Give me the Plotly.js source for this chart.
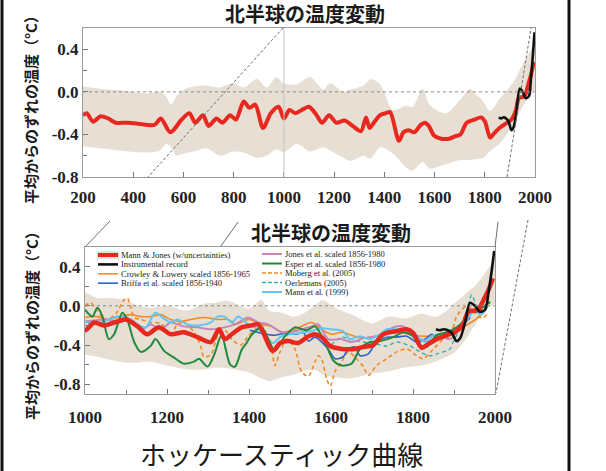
<!DOCTYPE html>
<html><head><meta charset="utf-8">
<script src="https://cdn.plot.ly/plotly-3.0.1.min.js"></script>
<style>html,body{margin:0;padding:0;background:#fff;}#chart{width:606px;height:471px;}</style>
</head><body><div id="chart"></div>
<script>
// ---------------- DATA ----------------
// Mann & Jones (2003) reconstruction, 200-2000
const mjYears = [200,215,240,270,300,330,380,420,485,510,548,593,624,647,678,700,732,755,786,809,840,863,886,917,948,979,1000,1022,1046,1079,1100,1128,1152,1180,1209,1241,1274,1307,1327,1341,1358,1382,1406,1423,1458,1476,1496,1520,1545,1561,1577,1598,1626,1658,1679,1703,1728,1760,1785,1801,1821,1837,1858,1882,1906,1923,1935,1947,1959,1972,1984,1995];
const mjVals  = [-0.22,-0.20,-0.28,-0.23,-0.25,-0.29,-0.29,-0.30,-0.31,-0.25,-0.38,-0.26,-0.20,-0.29,-0.22,-0.32,-0.25,-0.29,-0.22,-0.26,-0.09,-0.15,-0.12,-0.34,-0.20,-0.14,-0.25,-0.17,-0.20,-0.16,-0.14,-0.21,-0.29,-0.22,-0.29,-0.27,-0.32,-0.37,-0.24,-0.34,-0.29,-0.22,-0.20,-0.19,-0.46,-0.38,-0.36,-0.38,-0.31,-0.29,-0.32,-0.41,-0.44,-0.44,-0.42,-0.40,-0.29,-0.26,-0.24,-0.28,-0.43,-0.39,-0.34,-0.30,-0.26,-0.18,-0.06,-0.05,-0.04,0.06,0.16,0.28];
// uncertainty band, upper panel
const topBandYears = [200,266,346,452,506,532,552,572,600,640,692,745,798,838,892,931,971,998,1051,1104,1158,1184,1238,1264,1318,1344,1384,1434,1486,1513,1553,1580,1646,1700,1741,1767,1794,1820,1861,1914,1955,2000];
const topBandHi = [0.05,0.03,0.015,-0.015,0.0,-0.05,-0.12,-0.04,0.02,0.05,0.06,0.04,0.08,0.04,0.12,0.04,0.14,0.08,0.07,0.14,0.02,0.08,0.0,0.02,0.06,0.12,0.07,-0.17,-0.13,-0.14,0.03,-0.12,-0.2,-0.08,0.03,-0.03,-0.09,-0.18,-0.06,0.09,0.28,0.46];
const topBandLo = [-0.51,-0.53,-0.55,-0.57,-0.55,-0.49,-0.52,-0.60,-0.58,-0.56,-0.53,-0.60,-0.56,-0.57,-0.62,-0.60,-0.54,-0.57,-0.49,-0.56,-0.52,-0.55,-0.62,-0.65,-0.60,-0.63,-0.52,-0.58,-0.71,-0.74,-0.66,-0.72,-0.68,-0.64,-0.64,-0.63,-0.62,-0.56,-0.48,-0.31,-0.12,0.02];
// uncertainty band, lower panel
const botBandYears = [1000,1030,1060,1100,1130,1160,1200,1250,1290,1320,1350,1400,1430,1450,1480,1510,1540,1560,1580,1610,1650,1700,1740,1780,1820,1860,1900,1930,1955,1980,2000];
const botBandHi = [0.14,0.08,0.08,0.06,0.0,-0.02,0.0,-0.05,0.02,0.03,0.05,-0.03,0.06,-0.05,-0.07,-0.11,-0.06,0.0,0.06,-0.02,-0.09,-0.18,-0.11,-0.13,-0.08,-0.11,0.02,0.13,0.22,0.36,0.47];
const botBandLo = [-0.50,-0.52,-0.55,-0.58,-0.58,-0.57,-0.61,-0.65,-0.65,-0.63,-0.64,-0.68,-0.74,-0.77,-0.73,-0.70,-0.66,-0.65,-0.70,-0.73,-0.74,-0.69,-0.67,-0.63,-0.61,-0.56,-0.48,-0.33,-0.17,-0.03,0.02];
// instrumental record
const instYears = [1856,1865,1875,1885,1895,1906,1915,1927,1939,1951,1963,1976,1984,1992,1998];
const instVals  = [-0.24,-0.25,-0.24,-0.25,-0.28,-0.36,-0.33,-0.17,0.03,0.0,-0.06,-0.04,0.13,0.36,0.56];
// Crowley & Lowery
const crowleyYears = [1000,1030,1055,1087,1112,1136,1160,1185,1209,1233,1258,1290,1323,1350,1366,1398,1415,1431,1455,1480,1512,1553,1577,1601,1626,1650,1680,1710,1740,1770,1800,1830,1860,1890,1920,1945,1965];
const crowleyVals  = [-0.12,-0.11,-0.14,-0.11,-0.09,-0.11,-0.11,-0.09,-0.14,-0.16,-0.14,-0.12,-0.14,-0.14,-0.19,-0.14,-0.16,-0.19,-0.21,-0.27,-0.24,-0.17,-0.24,-0.29,-0.27,-0.30,-0.33,-0.31,-0.28,-0.27,-0.30,-0.31,-0.30,-0.27,-0.22,-0.16,-0.10];
// Briffa et al.
const briffaYears = [1402,1430,1460,1490,1515,1532,1545,1561,1593,1610,1630,1642,1658,1671,1691,1711,1736,1760,1785,1809,1833,1845,1866,1890,1906,1925,1940];
const briffaVals  = [-0.25,-0.28,-0.30,-0.28,-0.29,-0.27,-0.36,-0.32,-0.44,-0.54,-0.52,-0.44,-0.42,-0.51,-0.49,-0.37,-0.32,-0.32,-0.31,-0.37,-0.33,-0.29,-0.34,-0.27,-0.23,-0.18,-0.12];
// Jones et al.
const jonesYears = [1000,1055,1079,1112,1140,1160,1185,1209,1241,1274,1307,1340,1366,1398,1423,1447,1480,1512,1553,1569,1593,1626,1650,1680,1711,1752,1776,1809,1841,1866,1890,1923,1939,1955,1967,1980];
const jonesVals  = [-0.16,-0.14,-0.17,-0.14,-0.24,-0.19,-0.24,-0.17,-0.21,-0.22,-0.24,-0.22,-0.19,-0.12,-0.17,-0.19,-0.27,-0.26,-0.21,-0.19,-0.34,-0.34,-0.37,-0.33,-0.31,-0.22,-0.21,-0.32,-0.36,-0.31,-0.34,-0.17,-0.06,-0.04,-0.09,-0.01];
// Esper et al.
const esperYears = [1000,1018,1030,1042,1058,1071,1091,1103,1120,1136,1160,1172,1193,1221,1241,1266,1278,1299,1315,1333,1354,1366,1382,1394,1406,1431,1447,1463,1488,1512,1541,1561,1585,1606,1626,1650,1671,1695,1720,1752,1776,1797,1817,1833,1858,1882,1906,1923,1939,1955,1972,1988];
const esperVals  = [-0.04,-0.11,-0.02,-0.10,-0.34,-0.29,-0.07,-0.14,-0.37,-0.47,-0.41,-0.34,-0.46,-0.54,-0.59,-0.57,-0.54,-0.62,-0.50,-0.30,-0.60,-0.62,-0.45,-0.38,-0.30,-0.22,-0.34,-0.46,-0.31,-0.22,-0.25,-0.21,-0.37,-0.56,-0.61,-0.59,-0.44,-0.37,-0.36,-0.32,-0.27,-0.30,-0.40,-0.42,-0.30,-0.27,-0.22,-0.16,-0.06,-0.06,-0.01,0.04];
// Moberg et al. (2005)
const mobergYears = [1000,1014,1030,1050,1075,1095,1103,1112,1120,1136,1160,1185,1209,1225,1241,1266,1282,1290,1307,1323,1341,1360,1380,1400,1431,1455,1463,1476,1492,1512,1528,1545,1561,1569,1577,1589,1598,1610,1626,1642,1662,1679,1691,1711,1736,1760,1785,1809,1825,1850,1874,1890,1906,1919,1931,1947,1959,1972,1985];
const mobergVals  = [0.0,0.03,-0.05,-0.15,-0.08,0.06,0.08,-0.02,-0.12,-0.14,-0.17,-0.18,-0.30,-0.19,-0.17,-0.27,-0.41,-0.52,-0.50,-0.31,-0.25,-0.35,-0.40,-0.30,-0.21,-0.44,-0.61,-0.47,-0.34,-0.44,-0.67,-0.72,-0.57,-0.51,-0.54,-0.74,-0.82,-0.67,-0.57,-0.47,-0.54,-0.62,-0.71,-0.61,-0.54,-0.47,-0.44,-0.51,-0.54,-0.44,-0.34,-0.31,-0.11,-0.04,0.00,-0.06,-0.11,-0.12,-0.06];
// Oerlemans (2005)
const oerlemansYears = [1600,1626,1646,1679,1711,1736,1760,1793,1817,1841,1858,1874,1890,1898,1910,1923,1935,1943,1955,1967,1980];
const oerlemansVals  = [-0.40,-0.32,-0.34,-0.37,-0.39,-0.41,-0.37,-0.41,-0.47,-0.51,-0.49,-0.47,-0.44,-0.37,-0.27,-0.14,0.01,0.11,0.0,-0.06,0.03];
// Mann et al. (1999)
const mann99Years = [1000,1022,1046,1079,1103,1128,1148,1172,1189,1209,1225,1250,1274,1307,1323,1340,1358,1374,1398,1423,1440,1458,1480,1520,1550,1580,1600,1630,1646,1671,1695,1720,1736,1760,1785,1809,1830,1850,1880,1900,1925,1950,1965,1980];
const mann99Vals  = [-0.16,-0.19,-0.16,-0.11,-0.12,-0.19,-0.22,-0.07,-0.12,-0.17,-0.14,-0.19,-0.20,-0.17,-0.11,-0.11,-0.17,-0.11,-0.19,-0.24,-0.30,-0.38,-0.31,-0.28,-0.26,-0.23,-0.24,-0.26,-0.34,-0.31,-0.34,-0.29,-0.24,-0.24,-0.23,-0.31,-0.37,-0.30,-0.29,-0.26,-0.18,-0.05,-0.09,-0.02];

// tick labels
const topXTicks = [200,400,600,800,1000,1200,1400,1600,1800,2000];
const botXTicks = [1000,1200,1400,1600,1800,2000];
const botXMinor = [1100,1300,1500,1700,1900];
const yTickVals = [0.4,0.0,-0.4,-0.8];
const yTickText = ['0.4','0.0','-0.4','-0.8'];
const yMinorVals = [0.2,-0.2,-0.6];

// texts
const chartTitle = '北半球の温度変動';
const yTitle = '平均からのずれの温度（°C）';
const bottomCaption = 'ホッケースティック曲線';
const legendLeft  = ['Mann & Jones (w/uncertainties)','Instrumental record','Crowley & Lowery scaled 1856-1965','Briffa et al. scaled 1856-1940'];
const legendRight = ['Jones et al. scaled 1856-1980','Esper et al. scaled 1856-1980','Moberg et al. (2005)','Oerlemans (2005)','Mann et al. (1999)'];
const markerYear = 1000;

// ---------------- STYLE ----------------
const W = 606, H = 471;
const px = v => v / W;
const py = v => 1 - v / H;
const BAND = '#e8dfd4';
const RED = '#e8281e';
const styles = {
  mj:   {color: RED, width: 4},
  inst: {color: '#111111', width: 2.6},
  crowley: {color: '#f28a22', width: 1.6},
  briffa: {color: '#2b62c8', width: 1.6},
  jones: {color: '#c584bc', width: 2},
  esper: {color: '#1f8a3c', width: 2},
  moberg: {color: '#f28a22', width: 1.6, dash: '4px,3px'},
  oerlemans: {color: '#2bb5ad', width: 1.4, dash: '4px,3px'},
  mann99: {color: '#5ec8f2', width: 2}
};
const lineOf = (st) => Object.assign({shape: 'spline', smoothing: 0.8}, st);

function band(xs, lo, hi, xa, ya) {
  return [
    {x: xs, y: lo, xaxis: xa, yaxis: ya, type: 'scatter', mode: 'lines', line: {width: 0, shape: 'spline', smoothing: 0.8}, hoverinfo: 'skip', showlegend: false},
    {x: xs, y: hi, xaxis: xa, yaxis: ya, type: 'scatter', mode: 'lines', line: {width: 0, shape: 'spline', smoothing: 0.8}, fill: 'tonexty', fillcolor: BAND, hoverinfo: 'skip', showlegend: false}
  ];
}
function series(xs, ys, st, xa, ya) {
  return {x: xs, y: ys, xaxis: xa, yaxis: ya, type: 'scatter', mode: 'lines', line: lineOf(st), hoverinfo: 'skip', showlegend: false};
}

const traces = [].concat(
  band(topBandYears, topBandLo, topBandHi, 'x', 'y'),
  [series(mjYears, mjVals, styles.mj, 'x', 'y'),
   series(instYears, instVals, styles.inst, 'x', 'y')],
  band(botBandYears, botBandLo, botBandHi, 'x2', 'y2'),
  [series(mobergYears, mobergVals, styles.moberg, 'x2', 'y2'),
   series(oerlemansYears, oerlemansVals, styles.oerlemans, 'x2', 'y2'),
   series(crowleyYears, crowleyVals, styles.crowley, 'x2', 'y2'),
   series(briffaYears, briffaVals, styles.briffa, 'x2', 'y2'),
   series(jonesYears, jonesVals, styles.jones, 'x2', 'y2'),
   series(mann99Years, mann99Vals, styles.mann99, 'x2', 'y2'),
   series(esperYears, esperVals, styles.esper, 'x2', 'y2'),
   series(mjYears, mjVals, Object.assign({}, styles.mj, {width: 4.5}), 'x2', 'y2'),
   series(instYears, instVals, styles.inst, 'x2', 'y2')]
);

const tickFont = {family: 'Liberation Serif, Times New Roman, serif', size: 17, color: '#222', weight: 'bold'};
const axisCommon = {
  showgrid: false, zeroline: false, showline: true, linecolor: '#9a9a9a', linewidth: 1, mirror: true,
  ticks: 'inside', ticklen: 5, tickcolor: '#777', tickfont: tickFont, fixedrange: true
};
const layout = {
  width: W, height: H,
  margin: {l: 0, r: 0, t: 0, b: 0},
  paper_bgcolor: '#fff', plot_bgcolor: 'rgba(0,0,0,0)',
  showlegend: false,
  xaxis: Object.assign({}, axisCommon, {domain: [px(83), px(535)], range: [200, 2000], anchor: 'y',
    tickmode: 'array', tickvals: topXTicks, ticktext: topXTicks.map(String), ticklabelstandoff: 5}),
  yaxis: Object.assign({}, axisCommon, {domain: [py(177), py(28)], range: [-0.8, 0.6], anchor: 'x',
    tickmode: 'array', tickvals: yTickVals, ticktext: yTickText,
    minor: {tickmode: 'array', tickvals: yMinorVals, ticks: 'inside', ticklen: 4, tickcolor: '#777'}}),
  xaxis2: Object.assign({}, axisCommon, {domain: [px(85), px(495)], range: [1000, 2000], anchor: 'y2',
    tickmode: 'array', tickvals: botXTicks, ticktext: botXTicks.map(String), ticklabelstandoff: 8,
    minor: {tickmode: 'array', tickvals: botXMinor, ticks: 'inside', ticklen: 4, tickcolor: '#777'}}),
  yaxis2: Object.assign({}, axisCommon, {domain: [py(394), py(247)], range: [-0.9, 0.6], anchor: 'x2',
    tickmode: 'array', tickvals: yTickVals, ticktext: yTickText,
    minor: {tickmode: 'array', tickvals: yMinorVals, ticks: 'inside', ticklen: 4, tickcolor: '#777'}}),
  shapes: [],
  annotations: []
};

// reference lines
layout.shapes.push({type: 'line', xref: 'x domain', yref: 'y', x0: 0, x1: 1, y0: 0, y1: 0, layer: 'above', line: {color: '#888', width: 1, dash: 'dot'}});
layout.shapes.push({type: 'line', xref: 'x2 domain', yref: 'y2', x0: 0, x1: 1, y0: 0, y1: 0, layer: 'above', line: {color: '#888', width: 1, dash: 'dot'}});
layout.shapes.push({type: 'line', xref: 'x', yref: 'y domain', x0: markerYear, x1: markerYear, y0: 0, y1: 1, layer: 'above', line: {color: '#c4c4c4', width: 1}});

// perspective connector lines (decoration, in pixel positions)
const connectors = [
  [283, 28, 148, 177, '3px,2px'],
  [507, 177, 531, 28, '3px,2px'],
  [110, 221, 86, 246, 'solid'],
  [221, 246, 238, 222, 'solid'],
  [498, 222, 495, 247, 'solid'],
  [528, 220, 496, 393, '3px,2px']
];
connectors.forEach(c => layout.shapes.push({type: 'line', xref: 'paper', yref: 'paper',
  x0: px(c[0]), y0: py(c[1]), x1: px(c[2]), y1: py(c[3]), layer: 'above',
  line: {color: '#6e6e6e', width: 1, dash: c[4]}}));

// outer frame
layout.shapes.push({type: 'line', xref: 'paper', yref: 'paper', x0: px(2), x1: px(2), y0: 0, y1: 1, line: {color: '#111', width: 3}});
layout.shapes.push({type: 'line', xref: 'paper', yref: 'paper', x0: px(569), x1: px(569), y0: 0, y1: 1, line: {color: '#111', width: 3}});

// legend (built from names + styles)
const legFont = {family: 'Liberation Serif, Times New Roman, serif', size: 8.5, color: '#1a1a1a'};
const leftStyles = [styles.mj, styles.inst, styles.crowley, styles.briffa];
const rightStyles = [styles.jones, styles.esper, styles.moberg, styles.oerlemans, styles.mann99];
function legendColumn(names, sts, x0, x1, xt, ytop, step) {
  names.forEach((nm, i) => {
    const yy = ytop + i * step;
    if (i === 0 && sts[i] === styles.mj) {
      layout.shapes.push({type: 'rect', xref: 'paper', yref: 'paper', x0: px(x0 - 1), x1: px(x1 + 1), y0: py(yy - 4), y1: py(yy + 4),
        fillcolor: BAND, line: {width: 0}, layer: 'above'});
    }
    const st = sts[i];
    layout.shapes.push({type: 'line', xref: 'paper', yref: 'paper', x0: px(x0), x1: px(x1), y0: py(yy), y1: py(yy), layer: 'above',
      line: {color: st.color, width: st.width, dash: st.dash ? '4px,2px' : 'solid'}});
    layout.annotations.push({xref: 'paper', yref: 'paper', x: px(xt), y: py(yy), xanchor: 'left', yanchor: 'middle',
      text: nm, showarrow: false, font: legFont, borderpad: 0});
  });
}
legendColumn(legendLeft, leftStyles, 98, 118, 120, 255, 9.4);
legendColumn(legendRight, rightStyles, 262, 282, 284, 254, 9.5);

// titles
const titleFont = {family: 'Noto Sans CJK JP, sans-serif', size: 20, color: '#1a1a1a', weight: 'bold'};
layout.annotations.push({xref: 'paper', yref: 'paper', x: px(305), y: py(14), text: chartTitle, showarrow: false, font: titleFont, xanchor: 'center', yanchor: 'middle'});
layout.annotations.push({xref: 'paper', yref: 'paper', x: px(331), y: py(232), text: chartTitle, showarrow: false, font: titleFont, xanchor: 'center', yanchor: 'middle'});
const yTitleFont = {family: 'Noto Sans CJK JP, sans-serif', size: 15, color: '#1a1a1a', weight: 'bold'};
layout.annotations.push({xref: 'paper', yref: 'paper', x: px(31), y: py(106), text: yTitle, textangle: -90, showarrow: false, font: yTitleFont, xanchor: 'center', yanchor: 'middle'});
layout.annotations.push({xref: 'paper', yref: 'paper', x: px(31), y: py(322), text: yTitle, textangle: -90, showarrow: false, font: yTitleFont, xanchor: 'center', yanchor: 'middle'});
layout.annotations.push({xref: 'paper', yref: 'paper', x: px(281), y: py(453), text: bottomCaption, showarrow: false,
  font: {family: 'Noto Sans CJK JP, sans-serif', size: 26, color: '#1a1a1a'}, xanchor: 'center', yanchor: 'middle'});

Plotly.newPlot('chart', traces, layout, {staticPlot: true, displayModeBar: false});
</script>
</body></html>
